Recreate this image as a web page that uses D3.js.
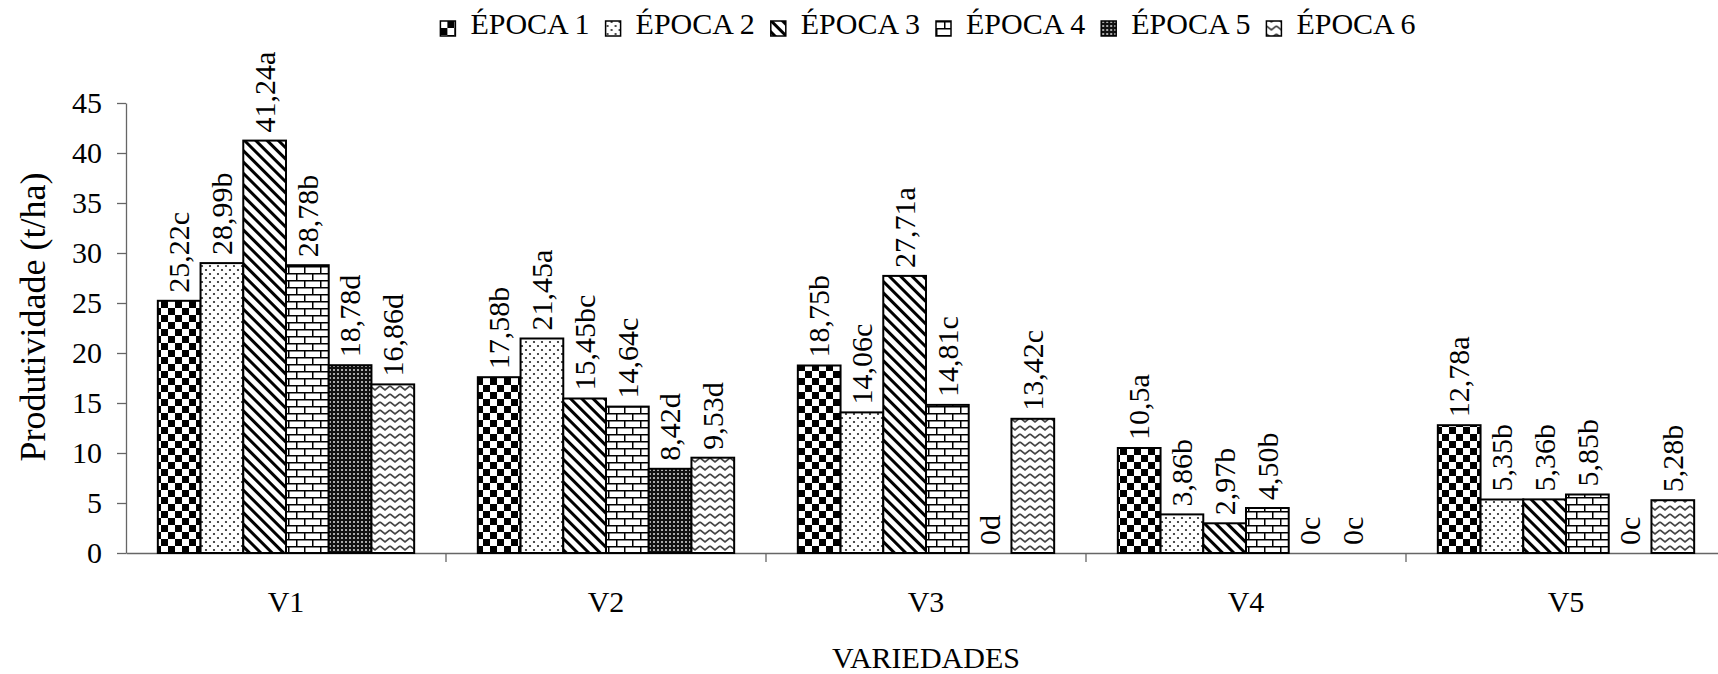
<!DOCTYPE html>
<html>
<head>
<meta charset="utf-8">
<script src="https://cdn.jsdelivr.net/npm/d3@7/dist/d3.min.js"></script>
<style>
  html, body { margin: 0; padding: 0; background: #fff; }
  svg { display: block; }
  svg text { font-family: "Liberation Serif", "Times New Roman", serif !important; fill: #000; }
</style>
</head>
<body>
<svg id="chart" width="1718" height="674"></svg>
<script>
// Varieties on the x axis
const categories = ["V1", "V2", "V3", "V4", "V5"];

// Yield labels per planting season (value + Tukey letter), one entry per variety
const epoca1 = ["25,22c", "17,58b", "18,75b", "10,5a", "12,78a"];
const epoca2 = ["28,99b", "21,45a", "14,06c", "3,86b", "5,35b"];
const epoca3 = ["41,24a", "15,45bc", "27,71a", "2,97b", "5,36b"];
const epoca4 = ["28,78b", "14,64c", "14,81c", "4,50b", "5,85b"];
const epoca5 = ["18,78d", "8,42d", "0d", "0c", "0c"];
const epoca6 = ["16,86d", "9,53d", "13,42c", "0c", "5,28b"];

const seriesNames = ["ÉPOCA 1", "ÉPOCA 2", "ÉPOCA 3", "ÉPOCA 4", "ÉPOCA 5", "ÉPOCA 6"];
const seriesLabels = [epoca1, epoca2, epoca3, epoca4, epoca5, epoca6];
const yTicks = [0, 5, 10, 15, 20, 25, 30, 35, 40, 45];

const toValue = s => parseFloat(s.replace(",", "."));
const FONT = '"Liberation Serif", "Times New Roman", serif';

const svg = d3.select("#chart").style("font-family", FONT);
const margin = { left: 126, top: 103, bottom: 553 };
const catWidth = 320;

// ---- fill patterns -------------------------------------------------------
const defs = svg.append("defs");

// checkerboard
const pChk = defs.append("pattern").attr("id", "pat0").attr("patternUnits", "userSpaceOnUse")
  .attr("width", 14).attr("height", 14);
pChk.append("rect").attr("width", 14).attr("height", 14).attr("fill", "#fff");
pChk.append("rect").attr("width", 7).attr("height", 7).attr("fill", "#000");
pChk.append("rect").attr("x", 7).attr("y", 7).attr("width", 7).attr("height", 7).attr("fill", "#000");

// sparse dots
const pDot = defs.append("pattern").attr("id", "pat1").attr("patternUnits", "userSpaceOnUse")
  .attr("width", 8).attr("height", 8);
pDot.append("rect").attr("width", 8).attr("height", 8).attr("fill", "#fff");
pDot.append("circle").attr("cx", 2).attr("cy", 2).attr("r", 1.1).attr("fill", "#222");
pDot.append("circle").attr("cx", 6).attr("cy", 6).attr("r", 1.1).attr("fill", "#222");

// wide downward diagonal
const pDiag = defs.append("pattern").attr("id", "pat2").attr("patternUnits", "userSpaceOnUse")
  .attr("width", 8).attr("height", 8).attr("patternTransform", "rotate(-45)");
pDiag.append("rect").attr("width", 8).attr("height", 8).attr("fill", "#fff");
pDiag.append("rect").attr("width", 3).attr("height", 8).attr("fill", "#000");

// horizontal brick
const pBrick = defs.append("pattern").attr("id", "pat3").attr("patternUnits", "userSpaceOnUse")
  .attr("width", 16).attr("height", 14);
pBrick.append("rect").attr("width", 16).attr("height", 14).attr("fill", "#fff");
pBrick.append("path")
  .attr("d", "M0,0.75H16M0,7.75H16M0.75,0V7.75M8.75,7.75V14")
  .attr("stroke", "#000").attr("stroke-width", 1.5).attr("fill", "none");

// fine dark grid
const pGrid = defs.append("pattern").attr("id", "pat4").attr("patternUnits", "userSpaceOnUse")
  .attr("width", 4).attr("height", 4);
pGrid.append("rect").attr("width", 4).attr("height", 4).attr("fill", "#111");
pGrid.append("rect").attr("x", 1).attr("y", 1).attr("width", 2).attr("height", 2).attr("fill", "#aaa");

// zigzag waves
const pZig = defs.append("pattern").attr("id", "pat5").attr("patternUnits", "userSpaceOnUse")
  .attr("width", 10).attr("height", 8);
pZig.append("rect").attr("width", 10).attr("height", 8).attr("fill", "#fff");
pZig.append("path").attr("d", "M0,2L5,6L10,2")
  .attr("stroke", "#444").attr("stroke-width", 1.7).attr("fill", "none");

// ---- scales ----------------------------------------------------------------
const x0 = d3.scaleBand().domain(categories)
  .range([margin.left, margin.left + catWidth * categories.length]).padding(0);
const x1 = d3.scaleBand().domain(d3.range(seriesNames.length))
  .range([0, x0.bandwidth()]).paddingInner(0).paddingOuter(0.745);
const y = d3.scaleLinear().domain([0, 45]).range([margin.bottom, margin.top]);

// ---- axes ------------------------------------------------------------------
const yAxis = svg.append("g").attr("transform", `translate(${margin.left},0)`)
  .call(d3.axisLeft(y).tickValues(yTicks).tickSize(9).tickSizeOuter(0).tickPadding(15));
yAxis.attr("font-family", FONT);
yAxis.selectAll("text").style("font-size", "30px").style("font-family", FONT);
yAxis.selectAll("line, path").attr("stroke", "#666").attr("stroke-width", 1.3);

const xAxis = svg.append("g").attr("transform", `translate(0,${margin.bottom})`)
  .call(d3.axisBottom(x0).tickSize(0).tickSizeOuter(0).tickPadding(38));
xAxis.attr("font-family", FONT);
xAxis.selectAll("text").style("font-size", "30px").style("font-family", FONT);
xAxis.select(".domain").attr("stroke", "#666").attr("stroke-width", 1.3);

// boundary ticks between varieties
svg.append("g").selectAll("line")
  .data(categories.slice(1))
  .join("line")
  .attr("x1", d => x0(d)).attr("x2", d => x0(d))
  .attr("y1", margin.bottom).attr("y2", margin.bottom + 9)
  .attr("stroke", "#666").attr("stroke-width", 1.3);

// ---- bars ------------------------------------------------------------------
const cells = [];
categories.forEach((c, ci) => {
  seriesLabels.forEach((arr, si) => {
    cells.push({ cat: c, s: si, label: arr[ci], value: toValue(arr[ci]) });
  });
});

svg.append("g").selectAll("rect")
  .data(cells.filter(d => d.value > 0))
  .join("rect")
  .attr("x", d => x0(d.cat) + x1(d.s))
  .attr("y", d => y(d.value))
  .attr("width", x1.bandwidth())
  .attr("height", d => y(0) - y(d.value))
  .attr("fill", d => `url(#pat${d.s})`)
  .attr("stroke", "#000").attr("stroke-width", 2);

// value labels, rotated
svg.append("g").selectAll("text")
  .data(cells)
  .join("text")
  .attr("transform", d => `translate(${x0(d.cat) + x1(d.s) + x1.bandwidth() / 2},${y(d.value) - 8}) rotate(-90)`)
  .attr("dy", "0.34em")
  .attr("text-anchor", "start")
  .style("font-family", FONT)
  .style("font-size", "30px")
  .text(d => d.label);

// ---- axis titles -----------------------------------------------------------
svg.append("text")
  .attr("transform", "translate(45,317) rotate(-90)")
  .attr("text-anchor", "middle")
  .style("font-family", FONT)
  .style("font-size", "36px")
  .text("Produtividade (t/ha)");

svg.append("text")
  .attr("x", x0.range()[0] + (x0.range()[1] - x0.range()[0]) / 2)
  .attr("y", 668)
  .attr("text-anchor", "middle")
  .style("font-family", FONT)
  .style("font-size", "30px")
  .text("VARIEDADES");

// ---- legend ----------------------------------------------------------------
const legend = svg.append("g");
const items = legend.selectAll("g").data(seriesNames).join("g");
items.append("rect")
  .attr("y", 21).attr("width", 15).attr("height", 15)
  .attr("fill", (d, i) => `url(#pat${i})`)
  .attr("stroke", "#000").attr("stroke-width", 1.5);
items.append("text")
  .attr("x", 30).attr("y", 34)
  .style("font-family", FONT)
  .style("font-size", "30px")
  .text(d => d);

let cursor = 0;
items.each(function () {
  const w = d3.select(this).select("text").node().getComputedTextLength();
  d3.select(this).attr("transform", `translate(${cursor},0)`);
  cursor += 30 + w + 16;
});
const legendWidth = cursor - 16;
legend.attr("transform", `translate(${928 - legendWidth / 2},0)`);
</script>
</body>
</html>
